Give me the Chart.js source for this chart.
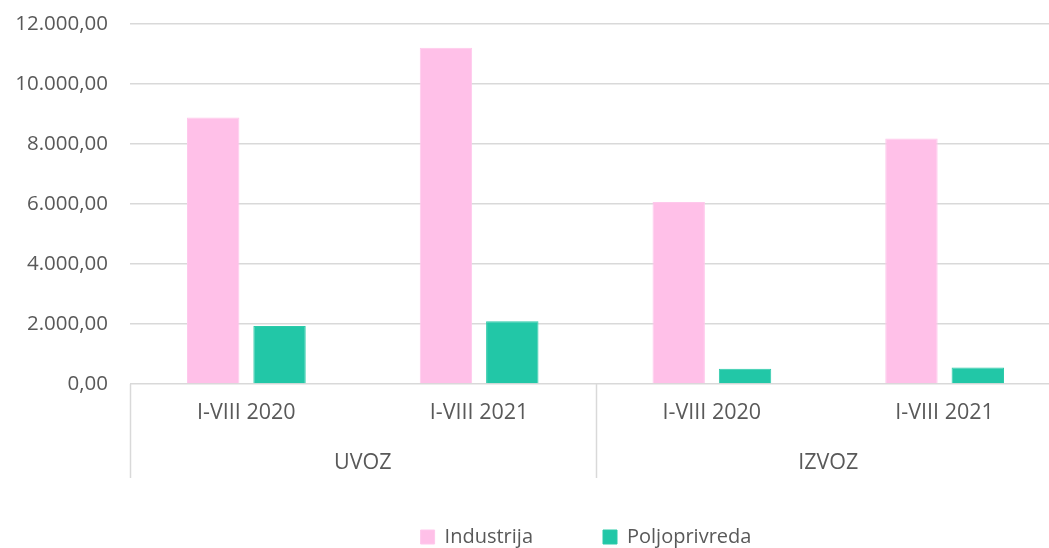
<!DOCTYPE html>
<html>
<head>
<meta charset="utf-8">
<script src="https://cdn.jsdelivr.net/npm/chart.js@4/dist/chart.umd.min.js"></script>
<style>
  html, body { margin: 0; padding: 0; background: #fff; overflow: hidden; }
  #wrap { width: 1080px; height: 548px; }
</style>
</head>
<body>
<div id="wrap"><canvas id="chart" width="1080" height="548"></canvas></div>
<script>
const periods = ["I-VIII 2020", "I-VIII 2021", "I-VIII 2020", "I-VIII 2021"];
const groups = ["UVOZ", "IZVOZ"];
const industrija = [8880, 11210, 6070, 8180];
const poljoprivreda = [1930, 2090, 510, 550];
const yTicks = [0, 2000, 4000, 6000, 8000, 10000, 12000];

const textColor = "#595959";
const lineColor = "#d9d9d9";
const font = { family: "'Open Sans', sans-serif", size: 21.5 };
const yFont = { family: "'Open Sans', sans-serif", size: 20.5 };
const legendFont = { family: "'Open Sans', sans-serif", size: 20 };
const legendPad = 70;

function fmt(v) {
  const parts = Math.abs(v).toFixed(2).split(".");
  const whole = parts[0].replace(/\B(?=(\d{3})+(?!\d))/g, ".");
  return whole + "," + parts[1];
}

// vertical separators between the UVOZ / IZVOZ groups under the axis
const groupDividers = {
  id: "groupDividers",
  afterDraw(chart) {
    const x = chart.scales.x;
    const x2 = chart.scales.x2;
    const ctx = chart.ctx;
    const per = periods.length / groups.length;
    const lines = [];
    for (let g = 0; g <= groups.length; g++) {
      const i = g * per;
      let px;
      if (i === 0) px = chart.chartArea.left;
      else if (i >= periods.length) px = chart.chartArea.right;
      else px = (x.getPixelForValue(i - 1) + x.getPixelForValue(i)) / 2;
      lines.push(Math.round(px) + 0.5);
    }
    ctx.save();
    ctx.strokeStyle = lineColor;
    ctx.lineWidth = 1.5;
    lines.forEach(px => {
      ctx.beginPath();
      ctx.moveTo(px, chart.chartArea.bottom);
      ctx.lineTo(px, x2.bottom);
      ctx.stroke();
    });
    ctx.restore();
  }
};

// legend box: fixed height in the layout, items placed low and a little off centre
const legendPlace = {
  id: "legendPlace",
  beforeLayout(chart) {
    const lg = chart.legend;
    if (lg && !lg._fixed) {
      const fit = lg.fit.bind(lg);
      lg.fit = function () { fit(); this.height = 70; };
      lg._fixed = true;
    }
  },
  afterLayout(chart) {
    const lg = chart.legend;
    const dx = 586 - (lg.left + lg.right) / 2;
    lg.left += dx;
    lg.right += dx;
    lg.top = 537 - legendPad - legendFont.size / 2;
    lg.bottom = chart.height + 40;
  }
};

new Chart(document.getElementById("chart"), {
  type: "bar",
  data: {
    labels: periods,
    datasets: [
      { label: "Industrija", data: industrija, backgroundColor: "#ffc0e8", borderColor: "#ffc8ec", borderWidth: 1,
        barPercentage: 0.79, categoryPercentage: 0.57 },
      { label: "Poljoprivreda", data: poljoprivreda, backgroundColor: "#22c7a7", borderColor: "#2ccaa9", borderWidth: 1,
        barPercentage: 0.79, categoryPercentage: 0.57 }
    ]
  },
  options: {
    responsive: false,
    animation: false,
    layout: { padding: { left: 0, right: 19, top: 24, bottom: 0 } },
    plugins: {
      tooltip: { enabled: false },
      legend: {
        position: "bottom",
        labels: { color: textColor, font: legendFont, boxWidth: 14, boxHeight: 14, padding: legendPad }
      }
    },
    scales: {
      y: {
        min: 0, max: 12000,
        afterBuildTicks(scale) { scale.ticks = yTicks.map(v => ({ value: v })); },
        afterFit(scale) { scale.width = 130; },
        ticks: { color: textColor, font: yFont, padding: 0, callback: v => fmt(v) },
        grid: { color: lineColor, lineWidth: 1.5, drawTicks: true, tickLength: 22, tickColor: "rgba(0,0,0,0)" },
        border: { display: false }
      },
      x: {
        afterFit(scale) { scale.height = 50; },
        grid: { display: false, drawTicks: false },
        border: { display: false },
        ticks: { color: textColor, font: font, padding: 16, maxRotation: 0 }
      },
      x2: {
        type: "category",
        labels: groups,
        position: "bottom",
        offset: true,
        weight: 1,
        afterFit(scale) { scale.height = 44; },
        grid: { display: false, drawTicks: false },
        border: { display: false },
        ticks: { color: textColor, font: font, padding: 16, maxRotation: 0 }
      }
    }
  },
  plugins: [groupDividers, legendPlace]
});
</script>
</body>
</html>
